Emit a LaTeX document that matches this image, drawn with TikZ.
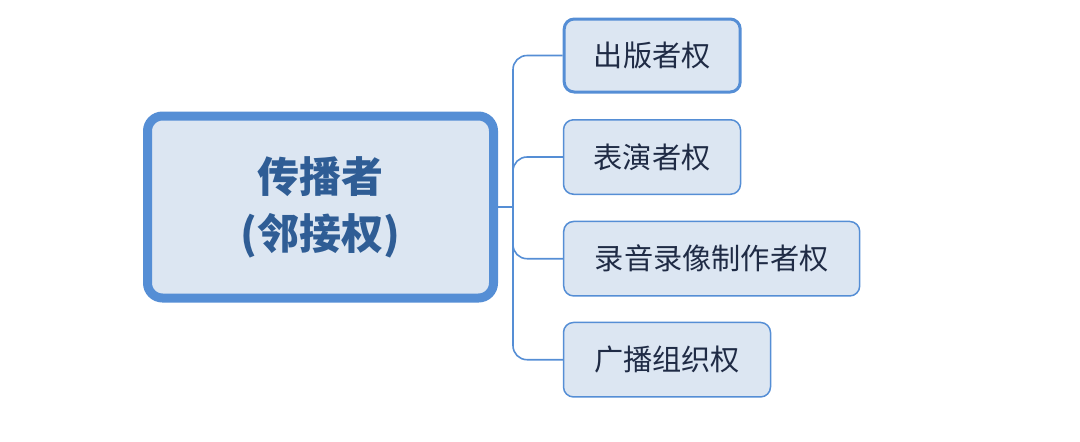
\documentclass[tikz,border=0pt]{standalone}
\usepackage{fontspec}
\usepackage{tikz}
\usetikzlibrary{positioning}
\newfontfamily\cjk{Noto Sans CJK SC}
\definecolor{rimblue}{HTML}{558ED5}
\definecolor{boxfill}{HTML}{DCE6F2}
\definecolor{roottext}{HTML}{2F5D95}
\definecolor{leaftext}{HTML}{1F2B45}

\begin{document}
\begin{tikzpicture}[x=0.5pt,y=-0.5pt]
	\tikzset{
		root/.style={draw=rimblue,fill=boxfill,line width=4.5pt,rounded corners=7.5pt,
			minimum width=173pt,minimum height=91pt,align=center,text=roottext,
			font=\cjk\bfseries\fontsize{21}{28.5}\selectfont},
		leaf/.style={draw=rimblue,fill=boxfill,line width=0.75pt,rounded corners=5pt,
			minimum height=37.25pt,inner xsep=0pt,text=leaftext,
			font=\cjk\fontsize{14.6}{18}\selectfont},
		branch/.style={draw=rimblue,line width=0.8pt,rounded corners=7pt}
	}
	\useasboundingbox (0,0) rectangle (1080,441);
	\node[root] (root) at (320.5,207) {传播者\\(邻接权)};
	\node[leaf,line width=1.5pt,minimum width=88pt,minimum height=36.5pt] (pub) at (652.2,55.5) {出版者权};
	\node[leaf,minimum width=88.5pt] (perf) at (652,157) {表演者权};
	\node[leaf,minimum width=148pt] (rec) at (711.7,258.7) {录音录像制作者权};
	\node[leaf,minimum width=103.5pt] (bcast) at (667,359.7) {广播组织权};
	\coordinate (fork) at (513,207);
	\draw[branch] (root.east) -- (fork);
	\draw[branch] (fork) |- (pub.west);
	\draw[branch] (fork) |- (perf.west);
	\draw[branch] (fork) |- (rec.west);
	\draw[branch] (fork) |- (bcast.west);
\end{tikzpicture}
\end{document}
